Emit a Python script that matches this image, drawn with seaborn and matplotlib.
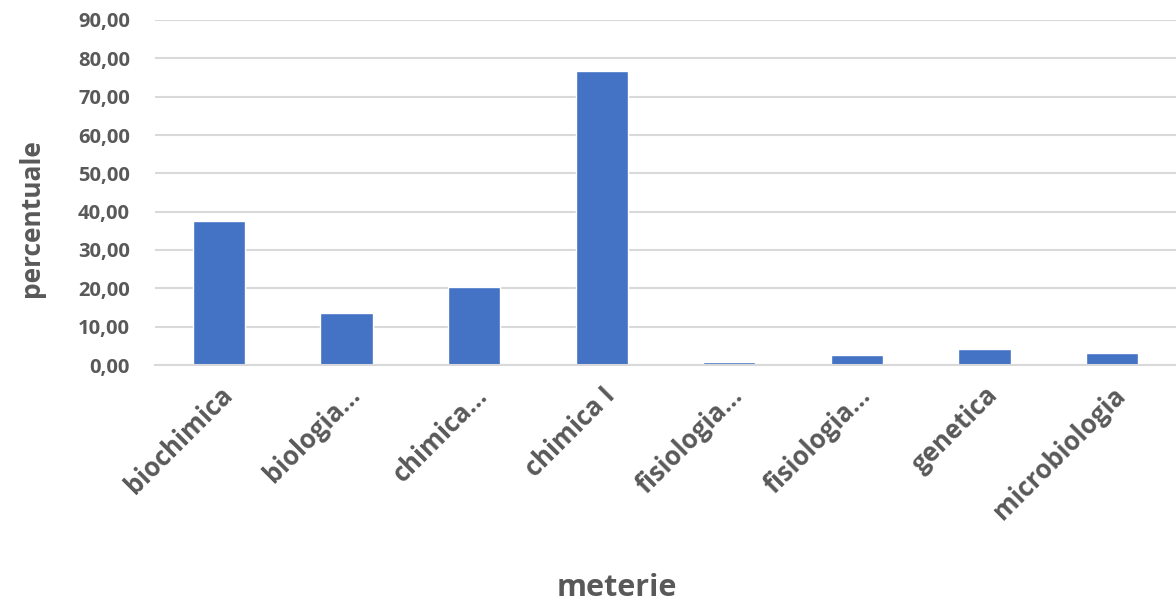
import matplotlib
matplotlib.use("Agg")
import matplotlib.pyplot as plt
import seaborn as sns
import pandas as pd
from matplotlib.ticker import FuncFormatter

categories = ["biochimica", "biologia…", "chimica…", "chimica I", "fisiologia…",
              "fisiologia…", "genetica", "microbiologia"]
values = [37.5, 13.5, 20.4, 76.8, 0.8, 2.5, 4.1, 3.2]

sns.set_theme(style="white")
plt.rcParams['font.family'] = ['Open Sans', 'DejaVu Sans']

df = pd.DataFrame({"cat": range(len(categories)), "val": values})

fig = plt.figure(figsize=(11.76, 6.01), dpi=100)
left = 155
ax = fig.add_axes([left/1176, 1 - 365/601, 1 - left/1176, (365 - 20) / 601])
sns.barplot(data=df, x="cat", y="val", color="#4472C4", width=0.41, ax=ax,
            saturation=1)
ax.set_ylim(0, 90)
ax.set_yticks(range(0, 91, 10))
ax.yaxis.set_major_formatter(FuncFormatter(lambda v, p: f"{v:.2f}".replace(".", ",")))
ax.set_xticks(range(len(categories)))
ax.set_xticklabels(categories, rotation=45, ha="right", rotation_mode="anchor",
                   fontsize=18.5, fontweight="bold", color="#595959")
for lab in ax.get_yticklabels():
    lab.set_fontsize(14.5)
    lab.set_fontweight("bold")
    lab.set_color("#595959")
ax.yaxis.grid(True, color="#d9d9d9", linewidth=1.5)
ax.set_axisbelow(True)
for s in ["top", "right", "left"]:
    ax.spines[s].set_visible(False)
ax.spines["bottom"].set_color("#d9d9d9")
ax.spines["bottom"].set_linewidth(1.5)
ax.tick_params(axis="y", length=0, pad=18)
ax.tick_params(axis="x", length=0, pad=12)
ax.set_xlim(-0.5, len(categories) - 0.5)
ax.set_ylabel("")
ax.set_xlabel("")
fig.text(32/1176, 1 - 218/601, "percentuale", ha="center", va="center", rotation=90,
         fontsize=19, fontweight="bold", color="#595959")
fig.text(617/1176, 1 - 588/601, "meterie", ha="center", va="center",
         fontsize=22, fontweight="bold", color="#595959")
fig.savefig("out.png", dpi=100)
